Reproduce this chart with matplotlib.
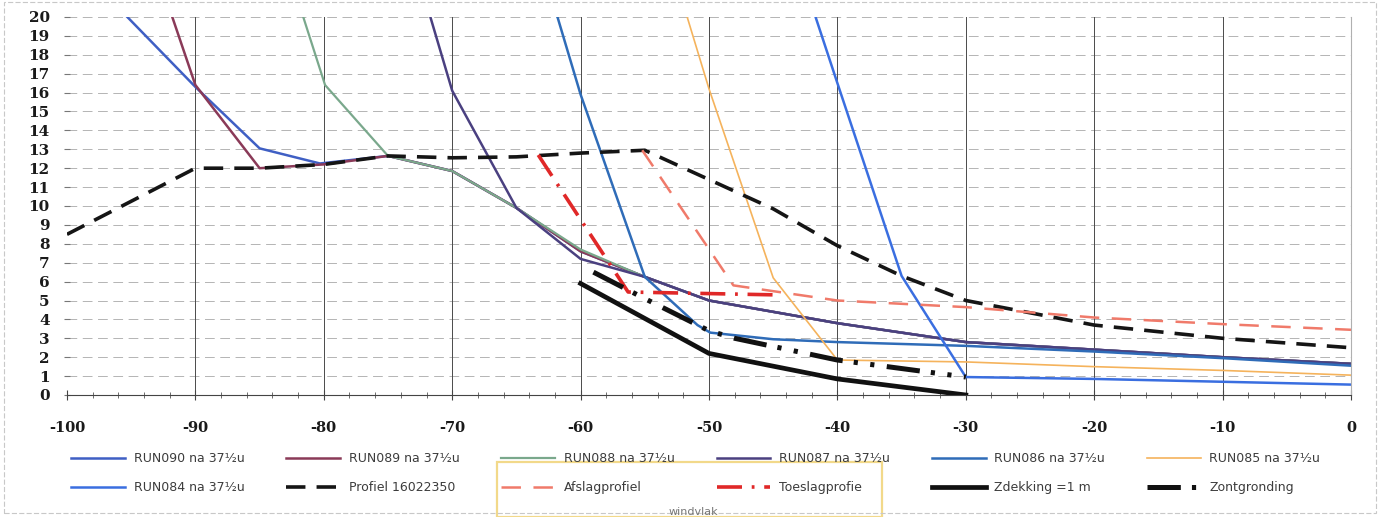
import matplotlib
matplotlib.use("Agg")
import matplotlib.pyplot as plt
import matplotlib.ticker as ticker
from matplotlib.patches import Rectangle

# --- data ---
run090_x = [-95.3, -90, -85, -80.3, -75, -70, -65, -60, -55, -50, -45, -40, -35, -30, -20, -10, 0]
run090_y = [20, 16.3, 13.05, 12.25, 12.65, 11.85, 9.9, 7.6, 6.25, 5.0, 4.4, 3.8, 3.3, 2.8, 2.4, 2.0, 1.65]
run089_x = [-91.8, -90, -85, -80, -75, -70, -65, -60, -55, -50, -45, -40, -35, -30, -20, -10, 0]
run089_y = [20, 16.4, 12.0, 12.2, 12.65, 11.85, 9.9, 7.6, 6.25, 5.0, 4.4, 3.8, 3.3, 2.8, 2.4, 2.0, 1.65]
run088_x = [-81.6, -79.9, -75, -70, -65, -60, -55, -50, -45, -40, -35, -30, -20, -10, 0]
run088_y = [20, 16.4, 12.65, 11.85, 9.9, 7.7, 6.25, 5.0, 4.4, 3.8, 3.3, 2.8, 2.4, 2.0, 1.65]
run087_x = [-71.7, -70, -65, -60, -55, -50, -45, -40, -35, -30, -20, -10, 0]
run087_y = [20, 16.1, 9.9, 7.2, 6.25, 5.0, 4.4, 3.8, 3.3, 2.8, 2.4, 2.0, 1.65]
run086_x = [-61.8, -60, -55, -50.9, -49.9, -45, -40, -30, -20, -10, 0]
run086_y = [20, 15.9, 6.25, 3.7, 3.3, 2.95, 2.8, 2.6, 2.3, 1.95, 1.55]
run085_x = [-51.7, -50, -45, -40, -30, -20, -10, 0]
run085_y = [20, 16.2, 6.2, 1.85, 1.75, 1.5, 1.3, 1.05]
run084_x = [-41.7, -40, -35, -30, -20, -10, 0]
run084_y = [20, 16.5, 6.3, 0.95, 0.85, 0.7, 0.55]

profiel_x = [-100, -90, -85, -80, -75, -70, -65, -60, -55, -50, -45, -40, -35, -30, -20, -10, 0]
profiel_y = [8.5, 12.0, 12.0, 12.2, 12.65, 12.55, 12.6, 12.8, 12.95, 11.4, 9.85, 7.9, 6.3, 5.0, 3.7, 3.0, 2.5]
afslag_x = [-55.2, -48.1, -40, -30, -20, -10, 0]
afslag_y = [12.95, 5.8, 5.0, 4.65, 4.1, 3.75, 3.45]
toeslag_x = [-63.3, -56.3, -45]
toeslag_y = [12.7, 5.45, 5.3]
zdekking_x = [-60, -50, -40, -30]
zdekking_y = [5.9, 2.2, 0.85, 0.0]
zontgr_x = [-59, -55, -50, -48, -40, -30]
zontgr_y = [6.5, 5.1, 3.4, 3.0, 1.85, 0.95]

x_ticks = [-100, -90, -80, -70, -60, -50, -40, -30, -20, -10, 0]
y_ticks = list(range(0, 21))

plt.rcParams.update({
    "lines.scale_dashes": False,
    "axes.unicode_minus": False,
    "font.family": ["DejaVu Sans"],
})

fig = plt.figure(figsize=(13.8, 5.17), dpi=100)
ax = fig.add_axes([67/1380, 1-395/517, 1284/1380, 378/517])

# grid
for yv in y_ticks[1:]:
    ax.axhline(yv, color="#a8a8a8", lw=0.6, dashes=(7, 4), zorder=0)
for xv in x_ticks[1:]:
    ax.axvline(xv, color="#4a4a4a", lw=0.7, zorder=0)

ax.plot(run090_x, run090_y, color="#3f5fc4", lw=1.8, label="RUN090 na 37½u")
ax.plot(run089_x, run089_y, color="#8a3a58", lw=1.8, label="RUN089 na 37½u")
ax.plot(run088_x, run088_y, color="#7aa88c", lw=1.6, label="RUN088 na 37½u")
ax.plot(run087_x, run087_y, color="#4a4080", lw=1.8, label="RUN087 na 37½u")
ax.plot(run086_x, run086_y, color="#2f6cb8", lw=1.8, label="RUN086 na 37½u")
ax.plot(run085_x, run085_y, color="#f5b35c", lw=1.2, label="RUN085 na 37½u")
ax.plot(run084_x, run084_y, color="#3a6ee0", lw=1.8, label="RUN084 na 37½u")

ax.plot(profiel_x, profiel_y, color="#151515", lw=2.6, dashes=(14, 8), label="Profiel 16022350")
ax.plot(afslag_x, afslag_y, color="#f07a6a", lw=1.8, dashes=(14, 9), label="Afslagprofiel")
ax.plot(toeslag_x, toeslag_y, color="#e02828", lw=2.6, dashes=(18, 7, 2, 7), label="Toeslagprofie")
ax.plot(zdekking_x, zdekking_y, color="#111111", lw=3.4, label="Zdekking =1 m")
ax.plot(zontgr_x, zontgr_y, color="#111111", lw=3.6, dashes=(24, 8, 3, 9, 3, 9), label="Zontgronding")

ax.set_xlim(-100, 0)
ax.set_ylim(0, 20)
ax.xaxis.set_major_locator(ticker.FixedLocator(x_ticks))
ax.xaxis.set_minor_locator(ticker.MultipleLocator(2))
ax.yaxis.set_major_locator(ticker.FixedLocator(y_ticks))

for s in ["top", "left"]:
    ax.spines[s].set_visible(False)
ax.spines["right"].set_color("#b0b0b0")
ax.spines["right"].set_linewidth(0.8)
ax.spines["bottom"].set_color("#444444")
ax.spines["bottom"].set_linewidth(0.8)

ax.tick_params(axis="x", which="major", direction="inout", length=7, color="#444444",
               pad=15, labelsize=10.5, labelcolor="#1a1a1a")
ax.tick_params(axis="x", which="minor", direction="inout", length=5, color="#555555")
ax.tick_params(axis="y", which="major", direction="inout", length=5, color="#777777",
               pad=10, labelsize=11, labelcolor="#1a1a1a")
for lab in ax.get_xticklabels() + ax.get_yticklabels():
    lab.set_family("DejaVu Serif")
    lab.set_fontweight("bold")

# yellow box behind the legend
fig.patches.append(Rectangle((497/1380, 0), 385/1380, (517-462)/517, transform=fig.transFigure,
                             fill=False, edgecolor="#f2d98a", lw=1.6, zorder=0))
fig.text(693/1380, (517-512)/517, "windvlak", ha="center", va="center",
         fontsize=8, color="#777777")

# outer border of the scanned chart
fig.patches.append(Rectangle((4/1380, 4/517), 1372/1380, 511/517, transform=fig.transFigure,
                             fill=False, edgecolor="#c8c8c8", lw=0.8, linestyle="--", zorder=0))

h, l = ax.get_legend_handles_labels()
order = [0, 6, 1, 7, 2, 8, 3, 9, 4, 10, 5, 11]
leg = fig.legend([h[i] for i in order], [l[i] for i in order], ncol=6,
                 loc="upper left", bbox_to_anchor=(66/1380, 1-447/517),
                 frameon=False, fontsize=9, handlelength=4.3, handletextpad=0.7,
                 columnspacing=3.35, labelspacing=1.3, borderaxespad=0)
for t in leg.get_texts():
    t.set_color("#3c3c3c")

plt.savefig("out.png", dpi=100)
plt.close()
